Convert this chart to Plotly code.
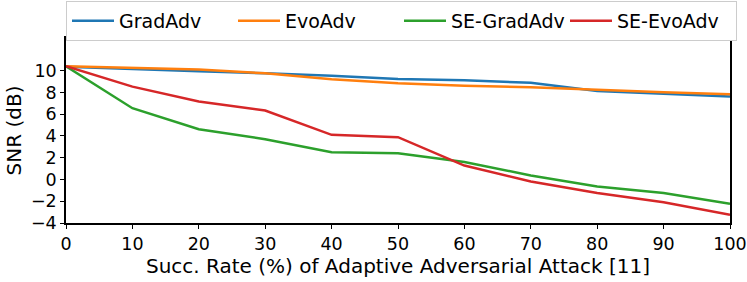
import plotly.graph_objects as go

x = [0, 10, 20, 30, 40, 50, 60, 70, 80, 90, 100]
grad_adv = [10.35, 10.12, 9.95, 9.76, 9.54, 9.24, 9.12, 8.88, 8.14, 7.88, 7.62]
evo_adv = [10.4, 10.25, 10.1, 9.76, 9.2, 8.84, 8.62, 8.48, 8.22, 8.02, 7.84]
se_grad_adv = [10.4, 6.55, 4.62, 3.7, 2.5, 2.42, 1.6, 0.37, -0.64, -1.25, -2.23]
se_evo_adv = [10.4, 8.53, 7.16, 6.33, 4.1, 3.89, 1.28, -0.18, -1.25, -2.1, -3.24]

names = ["GradAdv", "EvoAdv", "SE-GradAdv", "SE-EvoAdv"]
series = [grad_adv, evo_adv, se_grad_adv, se_evo_adv]
colors = ["#1f77b4", "#ff7f0e", "#2ca02c", "#d62728"]
x_ticks = [0, 10, 20, 30, 40, 50, 60, 70, 80, 90, 100]
y_ticks = [-4, -2, 0, 2, 4, 6, 8, 10]

fig = go.Figure()
for n, s, c in zip(names, series, colors):
    fig.add_trace(go.Scatter(x=x, y=s, name=n, mode="lines",
                             line=dict(color=c, width=2.5)))

font = "DejaVu Sans"
fig.update_layout(
    width=747, height=282,
    margin=dict(l=66, r=17, t=38, b=59, autoexpand=False),
    paper_bgcolor="white", plot_bgcolor="white",
    font=dict(family=font, color="black", size=17.5),
    showlegend=True,
    legend=dict(orientation="h", x=0.0, y=1.2, xanchor="left", yanchor="top",
                bordercolor="#cccccc", borderwidth=1, font=dict(size=19),
                itemwidth=42,
                entrywidth=0.25, entrywidthmode="fraction"),
    xaxis=dict(range=[0, 100], tickvals=x_ticks, showgrid=False, zeroline=False,
               showline=True, linecolor="black", linewidth=1.5, mirror=True,
               ticks="outside", ticklen=4, tickcolor="black", automargin=False,
               title=dict(text="Succ. Rate (%) of Adaptive Adversarial Attack [11]",
                          font=dict(size=20), standoff=4)),
    yaxis=dict(range=[-4, 13], tickvals=y_ticks, showgrid=False, zeroline=False,
               showline=True, linecolor="black", linewidth=1.5, mirror=True,
               ticks="outside", ticklen=4, tickcolor="black", automargin=False,
               ticktext=[("\u2212" + str(-v)) if v < 0 else str(v) for v in y_ticks],
               title=dict(text="SNR (dB)", font=dict(size=20), standoff=4)),
)
fig.write_html("out.html", config={"displayModeBar": False},
               post_script="document.body.style.margin='0px';")
